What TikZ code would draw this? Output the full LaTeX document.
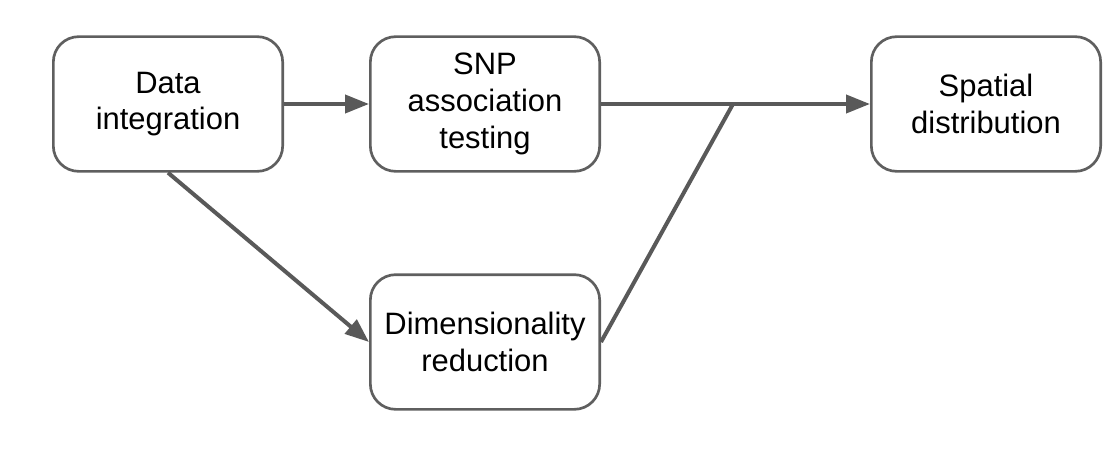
\documentclass[tikz,border=0pt]{standalone}
\usepackage{fontspec}
\setmainfont{Liberation Sans}
\usepackage{tikz}
\usetikzlibrary{arrows.meta}
\usepackage{xcolor}
\definecolor{linecol}{RGB}{89,89,89}
\definecolor{boxcol}{RGB}{95,95,95}

\begin{document}
\begin{tikzpicture}[x=0.75pt, y=-0.75pt,
  stage/.style={draw=boxcol, line width=2pt, rounded corners=19pt,
    minimum width=172pt, minimum height=101pt, align=center,
    font=\fontsize{23.2}{27.5}\selectfont},
  flow/.style={draw=linecol, line width=3pt},
  tip/.style={-{Triangle[length=18pt, width=13.5pt]}}]
  \useasboundingbox (0,0) rectangle (1120,453);
  % Boxes
  \node[stage] (integ) at (168, 104) {Data\\integration};
  \node[stage] (snp) at (485, 104) {SNP\\association\\testing};
  \node[stage] (spatial) at (986, 104) {Spatial\\distribution};
  \node[stage] (dimred) at (485, 342) {Dimensionality\\reduction};
  \coordinate (join) at (733, 104);
  % Connectors
  \draw[flow, tip] (integ.east) -- (snp.west);
  \draw[flow, tip] (integ.south) -- (dimred.west);
  \draw[flow] (snp.east) -- (join);
  \draw[flow, tip] (join) -- (spatial.west);
  \draw[flow] (dimred.east) -- (join);
\end{tikzpicture}
\end{document}
